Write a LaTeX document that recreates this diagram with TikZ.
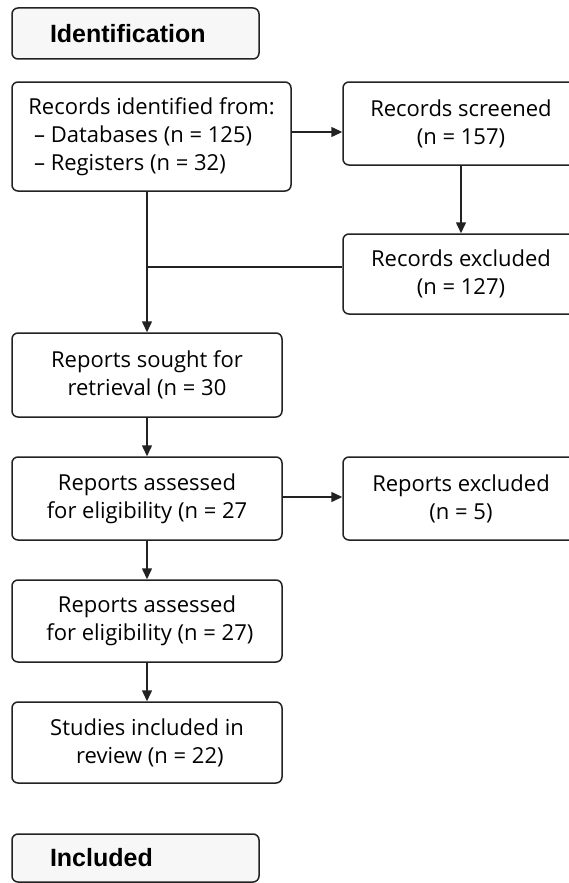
\documentclass[tikz,border=0pt]{standalone}
\usepackage{fontspec}
\setmainfont{Open Sans}
\newfontfamily\hdrfont{Liberation Sans}
\usetikzlibrary{arrows.meta}
\definecolor{linegray}{HTML}{222222}
\definecolor{hdrgray}{HTML}{F7F7F7}
\begin{document}
\begin{tikzpicture}[x=1pt,y=-1pt,
  box/.style={draw=linegray, line width=1.5pt, rounded corners=6pt, align=center, inner sep=0pt,
    font=\fontsize{22}{28}\selectfont, text=black},
  hdr/.style={draw=linegray, fill=hdrgray, line width=1.5pt, rounded corners=6pt, minimum width=247pt,
    text width=171pt, inner xsep=38pt, align=left, font=\hdrfont\fontsize{25}{28}\selectfont\bfseries},
  arr/.style={draw=linegray, line width=1.5pt, -{Triangle[length=11pt,width=10pt]}},
  link/.style={draw=linegray, line width=1.5pt}]
\useasboundingbox (0,0) rectangle (569,883);
\clip (0,0) rectangle (569,883);
\node[hdr, minimum height=51pt] (ident) at (135.5,33.5) {Identification};
\node[box, minimum width=279pt, minimum height=109pt, align=left] (identified) at (151.5,136.5)
  {Records identified from:\\ \ – Databases (n = 125)\\ \ – Registers (n = 32)};
\node[box, minimum width=236pt, minimum height=83pt] (screened) at (461,123.5) {Records screened\\(n = 157)};
\node[box, minimum width=236pt, minimum height=80pt] (recexcl) at (461,274) {Records excluded\\(n = 127)};
\node[box, minimum width=270pt, minimum height=84pt] (sought) at (147,375) {Reports sought for\\retrieval (n = 30};
\node[box, minimum width=270pt, minimum height=83pt] (assessA) at (147,498.5) {Reports assessed\\for eligibility (n = 27};
\node[box, minimum width=236pt, minimum height=83pt] (repexcl) at (461,498.5) {Reports excluded\\(n = 5)};
\node[box, minimum width=270pt, minimum height=82pt] (assessB) at (147,621) {Reports assessed\\ \ for eligibility (n = 27)};
\node[box, minimum width=270pt, minimum height=81pt] (studies) at (147,742.5) {Studies included in\\ \ review (n = 22)};
\node[hdr, minimum height=48pt] (included) at (135.5,858) {Included};

\draw[arr] ([yshift=4.5pt]identified.east) -- ([yshift=4.5pt]identified.east -| screened.west);
\draw[arr] (screened) -- (recexcl);
\draw[arr] (identified.south -| sought.north) -- (sought.north);
\draw[link] ([yshift=7pt]recexcl.west) -- ([yshift=7pt]recexcl.west -| sought.north);
\draw[arr] (sought) -- (assessA);
\draw[arr] ([yshift=1.5pt]assessA.east) -- ([yshift=1.5pt]repexcl.west);
\draw[arr] (assessA) -- (assessB);
\draw[arr] (assessB) -- (studies);
\end{tikzpicture}
\end{document}
